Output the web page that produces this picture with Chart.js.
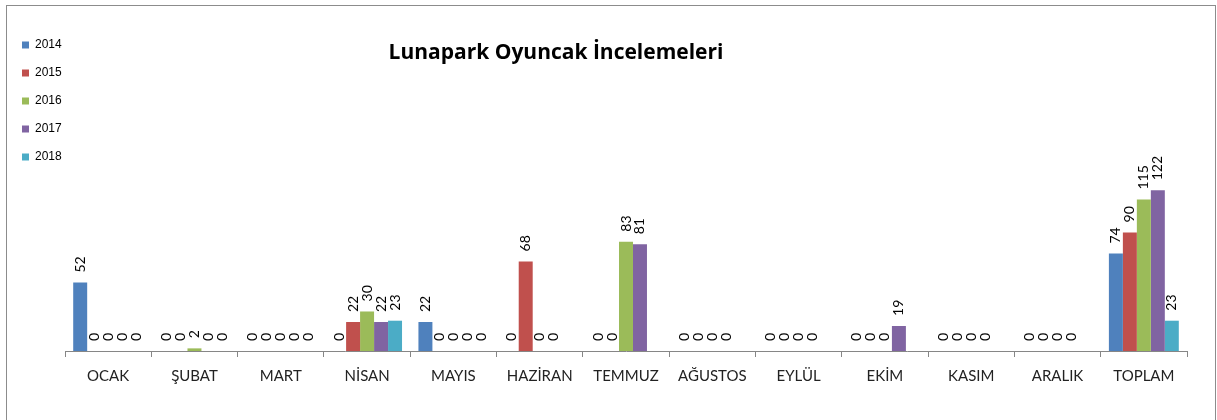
<!DOCTYPE html>
<html>
<head>
<meta charset="utf-8">
<script src="https://cdn.jsdelivr.net/npm/chart.js@4.4.1/dist/chart.umd.min.js"></script>
<style>
  body { margin: 0; background: #fff; }
  #wrap { position: relative; width: 1217px; height: 420px; overflow: hidden; }
  #frame { position: absolute; left: 6px; top: 5px; width: 1208px; height: 440px; border: 1px solid #8c8c8c; pointer-events: none; }
  canvas { position: absolute; left: 0; top: 0; }
</style>
</head>
<body>
<div id="wrap">
  <div id="frame"></div>
  <canvas id="myChart" width="1217" height="420"></canvas>
</div>
<script>
const months = ['OCAK', 'ŞUBAT', 'MART', 'NİSAN', 'MAYIS', 'HAZİRAN', 'TEMMUZ', 'AĞUSTOS', 'EYLÜL', 'EKİM', 'KASIM', 'ARALIK', 'TOPLAM'];
const years = ['2014', '2015', '2016', '2017', '2018'];

const y2014 = [52, 0, 0, 0, 22, 0, 0, 0, 0, 0, 0, 0, 74];
const y2015 = [0, 0, 0, 22, 0, 68, 0, 0, 0, 0, 0, 0, 90];
const y2016 = [0, 2, 0, 30, 0, 0, 83, 0, 0, 0, 0, 0, 115];
const y2017 = [0, 0, 0, 22, 0, 0, 81, 0, 0, 19, 0, 0, 122];
const y2018 = [0, 0, 0, 23, 0, null, null, null, null, null, null, null, 23];

const colors = ['#4F81BD', '#C0504D', '#9BBB59', '#8064A2', '#4BACC6'];

const ctx = document.getElementById('myChart');

// value labels above bars, rotated like Excel's
const barLabels = {
  id: 'barLabels',
  afterDatasetsDraw(chart) {
    const c = chart.ctx;
    c.save();
    c.font = '14px Lato';
    c.fillStyle = '#000';
    c.textAlign = 'left';
    c.textBaseline = 'middle';
    chart.data.datasets.forEach((ds, i) => {
      chart.getDatasetMeta(i).data.forEach((bar, j) => {
        const v = ds.data[j];
        if (v === null) return;
        c.save();
        c.translate(bar.x, bar.y - 10);
        c.rotate(-Math.PI / 2);
        c.fillText(String(v), 0, 0);
        c.restore();
      });
    });
    c.restore();
  }
};

const titleText = {
  id: 'titleText',
  afterDraw(chart) {
    const c = chart.ctx;
    c.save();
    c.font = 'bold 21px "Open Sans"';
    c.fillStyle = '#000';
    c.textAlign = 'center';
    c.textBaseline = 'alphabetic';
    c.fillText('Lunapark Oyuncak İncelemeleri', 556, 59);
    c.restore();
  }
};

new Chart(ctx, {
  type: 'bar',
  data: {
    labels: months,
    datasets: [y2014, y2015, y2016, y2017, y2018].map((d, i) => ({
      label: years[i],
      data: d,
      backgroundColor: colors[i],
      borderWidth: 0,
      categoryPercentage: 0.81,
      barPercentage: 1
    }))
  },
  options: {
    responsive: false,
    animation: false,
    layout: { padding: { left: 6, top: 23, right: 30, bottom: 25 } },
    plugins: {
      title: { display: false },
      tooltip: { enabled: false },
      legend: {
        position: 'left',
        align: 'start',
        maxWidth: 59,
        labels: {
          boxWidth: 7,
          boxHeight: 7,
          padding: 16,
          color: '#000',
          font: { family: 'Liberation Sans', size: 12 }
        }
      }
    },
    scales: {
      x: {
        grid: { display: true, drawOnChartArea: false, tickLength: 6, color: '#868686', offset: true },
        border: { color: '#868686' },
        ticks: { color: '#222', padding: 10, font: { family: 'Lato', size: 15 } }
      },
      y: {
        display: false,
        min: 0,
        max: 249
      }
    }
  },
  plugins: [barLabels, titleText]
});
</script>
</body>
</html>
